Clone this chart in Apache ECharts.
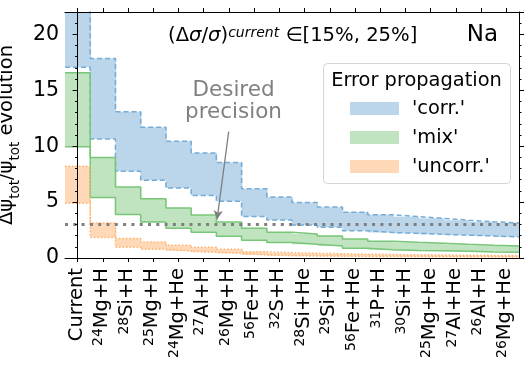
<!DOCTYPE html>
<html>
<head>
<meta charset="utf-8">
<script src="https://cdn.jsdelivr.net/npm/echarts@6/dist/echarts.min.js"></script>
<style>
html,body{margin:0;padding:0;background:#fff;}
#chart{width:531px;height:366px;}
</style>
</head>
<body>
<div id="chart"></div>
<script>
// ---------- data ----------
const categories = ['Current','24Mg+H','28Si+H','25Mg+H','24Mg+He','27Al+H','26Mg+H','56Fe+H','32S+H',
  '28Si+He','29Si+H','56Fe+He','31P+H','30Si+H','25Mg+He','27Al+He','26Al+H','26Mg+He'];
const corrHigh = [25, 17.85, 13.07, 11.69, 10.43, 9.39, 8.55, 6.19, 5.45, 4.96, 4.55, 4.10, 3.87, 3.70, 3.55, 3.38, 3.24, 3.14];
const corrLow  = [17.07, 10.64, 7.75, 6.95, 6.25, 5.60, 5.08, 3.71, 3.40, 2.95, 2.74, 2.44, 2.28, 2.21, 2.12, 2.04, 1.97, 1.89];
const mixHigh  = [16.56, 8.98, 6.34, 5.30, 4.47, 3.84, 3.22, 2.66, 2.30, 2.15, 1.97, 1.70, 1.50, 1.40, 1.32, 1.22, 1.14, 1.08];
const mixLow   = [9.96, 5.40, 3.90, 3.21, 2.65, 2.30, 1.94, 1.58, 1.38, 1.22, 1.08, 0.87, 0.74, 0.67, 0.64, 0.60, 0.54, 0.51];
const uncHigh  = [8.20, 3.14, 1.75, 1.43, 1.14, 0.96, 0.78, 0.57, 0.48, 0.42, 0.38, 0.34, 0.31, 0.29, 0.27, 0.25, 0.23, 0.22];
const uncLow   = [4.90, 1.84, 0.97, 0.78, 0.63, 0.51, 0.42, 0.27, 0.21, 0.18, 0.16, 0.14, 0.13, 0.12, 0.11, 0.10, 0.09, 0.09];
const desiredPrecision = 3;
const yTicks = [0, 5, 10, 15, 20];
const arrowFrom = [5.99, 11.3];
const arrowTo = [5.53, 3.45];

// ---------- styles ----------
const Y_MIN = 0, Y_MAX = 22;
const FONT = 'DejaVu Sans';
const groups = [
  {name: 'corr.',   lo: corrLow, hi: corrHigh, fill: '#bbd5ea', edge: '#74acd6', type: [5, 3]},
  {name: 'mix',     lo: mixLow,  hi: mixHigh,  fill: '#c0e3c0', edge: '#78c678', type: 'solid'},
  {name: 'uncorr.', lo: uncLow,  hi: uncHigh,  fill: '#ffd9b7', edge: '#ffb26e', type: [1.5, 2]}
];

const n = categories.length;
function edgeData(vals) {
  const pts = [];
  for (let k = 0; k <= n; k++) pts.push([k - 0.5, vals[Math.min(k, n - 1)]]);
  return pts;
}
function bandRenderer(fill) {
  return function (params, api) {
    const i = api.value(0);
    const pLo = api.coord([i - 0.5, api.value(1)]);
    const pHi = api.coord([i + 0.5, Math.min(api.value(2), Y_MAX)]);
    return {
      type: 'rect',
      shape: {x: pLo[0], y: pHi[1], width: pHi[0] - pLo[0] + 0.8, height: pLo[1] - pHi[1]},
      style: {fill: fill}
    };
  };
}
function catLabel(c) {
  const m = c.match(/^(\d+)(.*)$/);
  return m ? '{s|' + m[1] + '}{n|' + m[2] + '}' : '{n|' + c + '}';
}

const series = [];
groups.forEach(g => {
  series.push({
    name: g.name, type: 'custom', xAxisIndex: 0, yAxisIndex: 0, clip: true, silent: true,
    itemStyle: {color: g.fill},
    renderItem: bandRenderer(g.fill),
    encode: {x: 0, y: [1, 2]},
    data: categories.map((c, i) => [i, g.lo[i], g.hi[i]]), z: 2
  });
  [g.hi, g.lo].forEach(v => series.push({
    type: 'line', xAxisIndex: 0, yAxisIndex: 0, step: 'end', symbol: 'none', silent: true,
    data: edgeData(v), lineStyle: {color: g.edge, width: 1.5, type: g.type}, z: 3
  }));
});
series.push({
  type: 'line', xAxisIndex: 0, yAxisIndex: 0, symbol: 'none', silent: true, z: 4,
  data: [[-0.5, desiredPrecision], [n - 0.5, desiredPrecision]],
  lineStyle: {color: '#7f7f7f', width: 3, type: [3, 5.3], cap: 'butt'},
  markLine: {
    silent: true, symbol: ['none', 'arrow'], symbolSize: [7, 9], label: {show: false},
    lineStyle: {color: '#808080', width: 1.3, type: 'solid'},
    data: [[{coord: arrowFrom}, {coord: arrowTo}]]
  }
});

const chart = echarts.init(document.getElementById('chart'), null, {renderer: 'canvas'});
const axisLineStyle = {show: true, lineStyle: {color: '#000', width: 1}};
chart.setOption({
  animation: false,
  backgroundColor: '#fff',
  textStyle: {fontFamily: FONT},
  grid: {left: 65, right: 12, top: 12, bottom: 108, containLabel: false, outerBoundsMode: 'none'},
  xAxis: [
    {type: 'value', min: -0.5, max: n - 0.5, show: false, position: 'bottom'},
    {type: 'category', data: categories, position: 'bottom', boundaryGap: true, z: 10,
     axisLine: axisLineStyle,
     axisTick: {show: true, alignWithLabel: true, interval: 0, length: 4, lineStyle: {color: '#000'}},
     axisLabel: {interval: 0, rotate: 90, margin: 10, color: '#000', fontFamily: FONT,
       formatter: v => catLabel(v),
       rich: {
         n: {fontSize: 19.5, fontFamily: FONT, color: '#000', lineHeight: 22, verticalAlign: 'top'},
         s: {fontSize: 14, fontFamily: FONT, color: '#000', lineHeight: 14, verticalAlign: 'top'}
       }},
     splitLine: {show: false}},
    {type: 'category', data: categories, position: 'top', boundaryGap: true, z: 10,
     axisLine: axisLineStyle,
     axisTick: {show: true, alignWithLabel: true, interval: 0, length: 4, lineStyle: {color: '#000'}},
     axisLabel: {show: false}, splitLine: {show: false}}
  ],
  yAxis: [
    {type: 'value', min: Y_MIN, max: Y_MAX, interval: 5, position: 'left', z: 10,
     axisLine: axisLineStyle,
     axisTick: {show: true, length: 5, lineStyle: {color: '#000'}},
     minorTick: {show: true, splitNumber: 5, length: 2.5, lineStyle: {color: '#000'}},
     axisLabel: {color: '#000', fontSize: 20.5, fontFamily: FONT, margin: 6,
       formatter: v => (yTicks.indexOf(v) >= 0 ? String(v) : '')},
     splitLine: {show: false},
     name: '{n|Δψ}{b|tot}{n|/ψ}{b|tot}{n| evolution}', nameLocation: 'middle', nameGap: 41,
     nameTextStyle: {rich: {
       n: {fontSize: 19.5, fontFamily: FONT, color: '#000', lineHeight: 22, verticalAlign: 'top'},
       b: {fontSize: 13.5, fontFamily: FONT, color: '#000', lineHeight: 13, verticalAlign: 'top', padding: [11, 0, 0, 0]}
     }}},
    {type: 'value', min: Y_MIN, max: Y_MAX, interval: 5, position: 'right', z: 10,
     axisLine: axisLineStyle,
     axisTick: {show: true, length: 5, lineStyle: {color: '#000'}},
     minorTick: {show: true, splitNumber: 5, length: 2.5, lineStyle: {color: '#000'}},
     axisLabel: {show: false}, splitLine: {show: false}}
  ],
  legend: {
    z: 10,
    data: groups.map(g => ({name: g.name, itemStyle: {color: g.fill, opacity: 1, borderWidth: 0}})),
    orient: 'vertical', left: 345, top: 94,
    itemWidth: 49, itemHeight: 13, itemGap: 10, icon: 'rect', selectedMode: false,
    formatter: name => "'" + name + "'",
    textStyle: {fontSize: 19.4, fontFamily: FONT, color: '#000', padding: [0, 0, 0, 8]}
  },
  graphic: [
    {type: 'rect', z: 3, shape: {x: 323.5, y: 63.5, width: 187, height: 120, r: 4},
     style: {fill: 'rgba(255,255,255,0.85)', stroke: '#d5d5d5', lineWidth: 1}},
    {type: 'text', z: 6, x: 416.5, y: 80.5,
     style: {text: 'Error propagation', fontSize: 19.4, fontFamily: FONT, fill: '#000', align: 'center', verticalAlign: 'middle'}},
    {type: 'text', z: 6, x: 168, y: 37,
     style: {text: '{n|(Δ}{i|σ}{n|/}{i|σ}{n|)}{s|current}{n| ∈[15%, 25%]}', fontFamily: FONT, verticalAlign: 'middle',
       rich: {
         n: {fontSize: 19.6, fontFamily: FONT, fill: '#000', lineHeight: 22, verticalAlign: 'top'},
         i: {fontSize: 19.6, fontFamily: FONT, fill: '#000', lineHeight: 22, verticalAlign: 'top', fontStyle: 'italic'},
         s: {fontSize: 14, fontFamily: FONT, fill: '#000', lineHeight: 14, verticalAlign: 'top', fontStyle: 'italic'}
       }}},
    {type: 'text', z: 6, x: 498, y: 35,
     style: {text: 'Na', fontSize: 23, fontFamily: FONT, fill: '#000', align: 'right', verticalAlign: 'middle'}},
    {type: 'text', z: 6, x: 233.5, y: 101,
     style: {text: 'Desired\nprecision', fontSize: 21.5, lineHeight: 22, fontFamily: FONT, fill: '#808080', align: 'center', verticalAlign: 'middle'}}
  ],
  series: series
});
</script>
</body>
</html>
